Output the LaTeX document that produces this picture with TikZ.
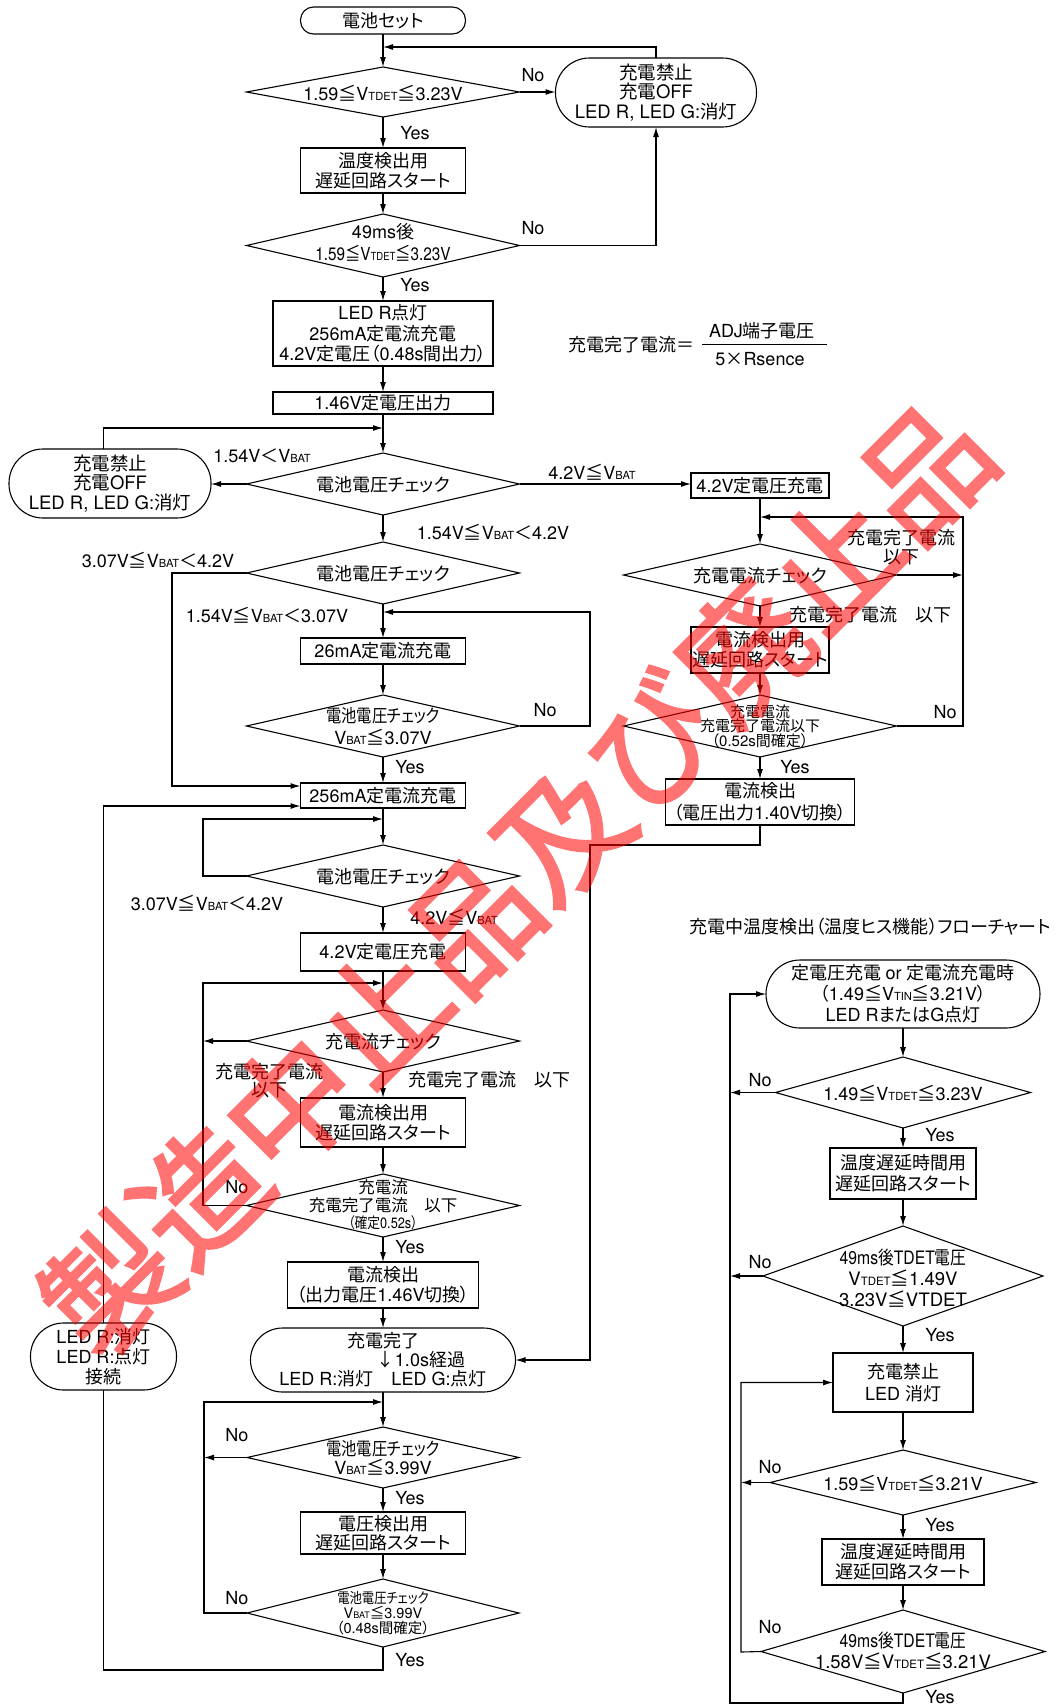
\documentclass[tikz,border=0pt]{standalone}
\usepackage{fontspec}
\usepackage{graphicx}
\setmainfont{TeX Gyre Heros}
\newfontfamily\latn[FakeStretch=0.85]{TeX Gyre Heros}
\newfontfamily\cjkf[RawFeature={+palt}]{Noto Sans CJK JP}
\newfontfamily\cjkn[FakeStretch=0.85,RawFeature={+palt}]{Noto Sans CJK JP}
\newfontfamily\cjkw[FakeBold=2]{Noto Sans CJK JP}
\usetikzlibrary{arrows.meta,shapes.geometric,calc}
\newcount\cjkcc
\newcommand\setcls[3]{\cjkcc=#1\relax\loop\XeTeXcharclass\cjkcc=#3\relax\advance\cjkcc by 1\relax\ifnum\cjkcc<#2\relax\repeat}
\setcls{"21}{"7F}{0}
\setcls{"3000}{"3100}{7}
\setcls{"4E00}{"A000}{7}
\setcls{"FF00}{"FFF0}{7}
\setcls{"2190}{"2194}{7}
\setcls{"2264}{"2268}{7}
\XeTeXcharclass"00D7=7
\def\docjk{\cjkf}\def\dolat{\rmfamily}
\XeTeXinterchartoks 0 7 = {\docjk}
\XeTeXinterchartoks 4095 7 = {\docjk}
\XeTeXinterchartoks 7 0 = {\dolat}
\XeTeXinterchartoks 4095 0 = {\dolat}
\newcommand\nrw{\def\docjk{\cjkn}\def\dolat{\latn}\latn}
\newcommand\lsub[1]{\scalebox{0.62}{#1}}
\newcommand\fsz[2]{\fontsize{#1pt}{#2pt}\selectfont}
\tikzset{
  every node/.style={inner sep=0pt,outer sep=0pt,font=\fsz{18}{21}},
  ln/.style={line width=1.1pt},
  arr/.style={line width=1.1pt,-{Latex[length=10pt,width=6pt]}},
  dia/.style={draw,line width=1.1pt,diamond},
  box/.style={draw,line width=1.1pt,rectangle,align=center},
  stad/.style={draw,line width=1.1pt,rectangle,align=center,rounded corners=#1},
  lbl/.style={align=center},
}
\begin{document}
\begin{tikzpicture}[x=1pt,y=-1pt]
\XeTeXinterchartokenstate=1
\fill[white] (0,0) rectangle (1057,1706);
\useasboundingbox (0,0) rectangle (1057,1706);

% ---------- main column ----------
\node[stad=13pt,minimum width=165pt,minimum height=27pt] (start) at (383,20.5) {電池セット};
\node[dia,minimum width=273pt,minimum height=50pt] (d1) at (383,92) {};
\node (d1t) at (383,93) {1.59≦V\lsub{TDET}≦3.23V};
\node[stad=34pt,minimum width=201pt,minimum height=69pt,font=\fsz{18.5}{19.5}] (st1) at (656,92.5) {充電禁止\\充電OFF\\LED R, LED G:消灯};
\node[box,minimum width=165pt,minimum height=45pt,font=\fsz{18}{19.5}] (b1) at (383,170.5) {温度検出用\\遅延回路スタート};
\node[dia,minimum width=273pt,minimum height=63pt] (d2) at (383,245.5) {};
\node[lbl,font=\fsz{18}{22}] (d2t) at (383,242) {49ms後\\{\nrw 1.59≦V\lsub{TDET}≦3.23V}};
\node[box,minimum width=220pt,minimum height=65pt,font=\fsz{18}{20.5}] (b2) at (383,333.5) {LED R点灯\\256mA定電流充電\\4.2V定電圧（0.48s間出力）};
\node[box,minimum width=220pt,minimum height=22pt] (b3) at (383,403) {1.46V定電圧出力};
\node[dia,minimum width=273pt,minimum height=62pt] (d3) at (383,484) {};
\node (d3t) at (383,485) {電池電圧チェック};
\node[stad=34pt,minimum width=202pt,minimum height=69pt,font=\fsz{18.5}{19.5}] (st2) at (110,483.5) {充電禁止\\充電OFF\\LED R, LED G:消灯};
\node[box,minimum width=138pt,minimum height=25pt] (bR1) at (760,485.5) {4.2V定電圧充電};
\node[dia,minimum width=273pt,minimum height=62pt] (d4) at (383,573) {};
\node (d4t) at (383,574) {電池電圧チェック};
\node[box,minimum width=165pt,minimum height=26pt] (b4) at (383,651) {26mA定電流充電};
\node[dia,minimum width=273pt,minimum height=62pt] (d5) at (383,726) {};
\node[lbl,font=\fsz{18}{22}] (d5t) at (383,726) {\nrw 電池電圧チェック\\V\lsub{BAT}≦3.07V};
\node[box,minimum width=165pt,minimum height=25pt] (b5) at (383,795.5) {256mA定電流充電};
\node[dia,minimum width=273pt,minimum height=62pt] (d6) at (383,876) {};
\node (d6t) at (383,877) {電池電圧チェック};
\node[box,minimum width=165pt,minimum height=38pt] (b6) at (383,952) {4.2V定電圧充電};
\node[dia,minimum width=273pt,minimum height=62pt] (d7) at (383,1041) {};
\node (d7t) at (383,1042) {充電流チェック};
\node[box,minimum width=165pt,minimum height=49pt,font=\fsz{18}{20}] (b7) at (383,1122.5) {電流検出用\\遅延回路スタート};
\node[dia,minimum width=273pt,minimum height=63pt] (d8) at (383,1205.5) {};
\node[lbl,font=\fsz{16.5}{17.5}] (d8t) at (383,1205) {充電流\\充電完了電流　以下\\{\nrw\fsz{15}{17.5}（確定0.52s）}};
\node[box,minimum width=191.5pt,minimum height=46pt,font=\fsz{18}{20}] (b8) at (383,1285) {電流検出\\（出力電圧1.46V切換）};
\node[stad=32pt,minimum width=265pt,minimum height=64pt,font=\fsz{18}{19}] (st3) at (383,1360) {充電完了\\\hspace*{76pt}↓1.0s経過\\LED R:消灯　LED G:点灯};
\node[stad=33pt,minimum width=146pt,minimum height=67pt,font=\fsz{18}{20}] (st4) at (103.5,1356.5) {LED R:消灯\\LED R:点灯\\接続};
\node[dia,minimum width=272pt,minimum height=61pt] (d9) at (383,1457.5) {};
\node[lbl,font=\fsz{18}{19}] (d9t) at (383,1457.5) {\nrw 電池電圧チェック\\V\lsub{BAT}≦3.99V};
\node[box,minimum width=165pt,minimum height=42pt,font=\fsz{18}{19.5}] (b9) at (383,1533) {電圧検出用\\遅延回路スタート};
\node[dia,minimum width=272pt,minimum height=68pt] (d10) at (383,1613) {};
\node[lbl,font=\fsz{14.5}{15}] (d10t) at (383,1613) {\nrw 電池電圧チェック\\V\lsub{BAT}≦3.99V\\（0.48s間確定）};

% ---------- right middle column ----------
\node[dia,minimum width=273pt,minimum height=62pt] (d11) at (760,575) {};
\node (d11t) at (760,576) {充電電流チェック};
\node[box,minimum width=138pt,minimum height=46pt,font=\fsz{18}{20}] (bR2) at (760,650) {電流検出用\\遅延回路スタート};
\node[dia,minimum width=273pt,minimum height=62pt] (d12) at (760,726) {};
\node[lbl,font=\fsz{15}{14.5}] (d12t) at (760,726) {充電電流\\充電完了電流以下\\（0.52s間確定）};
\node[box,minimum width=188.5pt,minimum height=46pt,font=\fsz{18}{22}] (bR3) at (760,802) {電流検出\\（電圧出力1.40V切換）};

% formula
\node (fl) at (631,345) {充電完了電流＝};
\node (fn) at (762,331) {ADJ端子電圧};
\node (fd) at (760,359) {5×Rsence};
\draw[line width=1pt] (702,344) -- (827,344);

% ---------- right column ----------
\node (title) at (870,927) {充電中温度検出（温度ヒス機能）フローチャート};
\node[stad=34pt,minimum width=274pt,minimum height=68pt,font=\fsz{18}{21}] (st5) at (903,994) {定電圧充電 or 定電流充電時\\（1.49≦V\lsub{TIN}≦3.21V）\\LED RまたはG点灯};
\node[dia,minimum width=255pt,minimum height=71pt] (dR1) at (903,1092.5) {};
\node (dR1t) at (903,1093) {1.49≦V\lsub{TDET}≦3.23V};
\node[box,minimum width=146pt,minimum height=51pt,font=\fsz{18}{21}] (bRR1) at (903,1173.5) {温度遅延時間用\\遅延回路スタート};
\node[dia,minimum width=280pt,minimum height=100pt] (dR2) at (903,1276) {};
\node[lbl,font=\fsz{18.5}{21}] (dR2t) at (903,1278) {\nrw 49ms後TDET電圧\\V\lsub{TDET}≦1.49V\\3.23V≦VTDET};
\node[box,minimum width=140pt,minimum height=59pt,font=\fsz{18}{22}] (bRR2) at (903,1382.5) {充電禁止\\LED 消灯};
\node[dia,minimum width=266pt,minimum height=65pt] (dR3) at (903,1482.5) {};
\node (dR3t) at (903,1483) {1.59≦V\lsub{TDET}≦3.21V};
\node[box,minimum width=162pt,minimum height=46pt,font=\fsz{18}{20}] (bRR3) at (903,1562) {温度遅延時間用\\遅延回路スタート};
\node[dia,minimum width=284pt,minimum height=83pt] (dR4) at (903,1651.5) {};
\node[lbl,font=\fsz{18.5}{21}] (dR4t) at (903,1650.5) {\nrw 49ms後TDET電圧\\1.58V≦V\lsub{TDET}≦3.21V};

% ---------- coordinates ----------
\coordinate (j1) at (383,47);
\coordinate (j2) at (383,428);
\coordinate (c1) at (172,786);
\coordinate (j3) at (383,612);
\coordinate (c2) at (590,612);
\coordinate (c3) at (103.5,806);
\coordinate (j4) at (383,819);
\coordinate (c4) at (203,819);
\coordinate (j5) at (383,983);
\coordinate (c5) at (203,983);
\coordinate (c6) at (203,1041);
\coordinate (c7) at (590,845);
\coordinate (j6) at (383,1402);
\coordinate (c8) at (204,1402);
\coordinate (c9) at (204,1457.5);
\coordinate (c10) at (103.5,1670);
\coordinate (j7) at (760,517);
\coordinate (c11) at (963,517);
\coordinate (c12) at (963,575);
\coordinate (c13) at (730,1703);
\coordinate (c14) at (741,1652);

% ---------- connectors main ----------
\draw[arr] (start.south) -- (d1.north);
\draw[arr] (st1.north) |- (j1);
\draw[arr] (d1.east) -- (d1.east -| st1.west);
\draw[arr] (d1.south) -- (b1.north);
\draw[arr] (b1.south) -- (d2.north);
\draw[arr] (d2.east) -| (st1.south);
\draw[arr] (d2.south) -- (b2.north);
\draw[arr] (b2.south) -- (b3.north);
\draw[arr] (b3.south) -- (d3.north);
\draw[arr] ([xshift=-6.5pt]st2.north) |- (j2);
\draw[arr] (d3.west) -- (d3.west -| st2.east);
\draw[arr] (d3.east) -- (d3.east -| bR1.west);
\draw[arr] (d3.south) -- (d4.north);
\draw[arr] (d4.west) -| (c1) -- (c1 -| b5.west);
\draw[arr] (d4.south) -- (b4.north);
\draw[arr] (b4.south) -- (d5.north);
\draw[arr] (d5.east) -| (c2) -- (j3);
\draw[arr] (d5.south) -- (b5.north);
\draw[arr] (st4.north) -- (c3) -- (c3 -| b5.west);
\draw[arr] (b5.south) -- (d6.north);
\draw[arr] (d6.west) -| (c4) -- (j4);
\draw[arr] (d6.south) -- (b6.north);
\draw[arr] (b6.south) -- (d7.north);
\draw[arr] (d8.west) -| (c5) -- (j5);
\draw[arr] (d7.west) -- (c6);
\draw[arr] (d7.south) -- (b7.north);
\draw[arr] (b7.south) -- (d8.north);
\draw[arr] (d8.south) -- (b8.north);
\draw[arr] (b8.south) -- (st3.north);
\draw[arr] (bR3.south) |- (c7) |- (st3.east);
\draw[arr] (st3.south) -- (d9.north);
\draw[arr] (d10.west) -| (c8) -- (j6);
\draw[arr] (d9.west) -- (c9);
\draw[arr] (d9.south) -- (b9.north);
\draw[arr] (b9.south) -- (d10.north);
\draw[ln] (d10.south) |- (c10) -- (st4.south);

% ---------- connectors right middle ----------
\draw[arr] (bR1.south) -- (d11.north);
\draw[arr] (d12.east) -| (c11) -- (j7);
\draw[arr] (d11.east) -- (c12);
\draw[arr] (d11.south) -- (bR2.north);
\draw[arr] (bR2.south) -- (d12.north);
\draw[arr] (d12.south) -- (bR3.north);

% ---------- connectors right column ----------
\draw[arr] (dR4.south) |- (c13) |- (st5.west);
\draw[arr] (st5.south) -- (dR1.north);
\draw[arr] (dR1.west) -- (dR1.west -| c13);
\draw[arr] (dR1.south) -- (bRR1.north);
\draw[arr] (bRR1.south) -- (dR2.north);
\draw[arr] (dR2.west) -- (dR2.west -| c13);
\draw[arr] (dR2.south) -- (bRR2.north);
\draw[arr] (bRR2.south) -- (dR3.north);
\draw[arr] (dR3.west) -- (dR3.west -| c14);
\draw[arr] (dR3.south) -- (bRR3.north);
\draw[arr] (bRR3.south) -- (dR4.north);
\draw[arr] (dR4.west) -- (c14) |- (bRR2.west);

% ---------- labels ----------
\node (l1) at (533,75) {No};
\node (l2) at (533,228) {No};
\node (l3) at (415,133) {Yes};
\node (l4) at (415,285) {Yes};
\node (l5) at (262,456) {1.54V＜V\lsub{BAT}};
\node (l6) at (592,472) {4.2V≦V\lsub{BAT}};
\node (l7) at (493,532) {1.54V≦V\lsub{BAT}＜4.2V};
\node (l8) at (158,560) {3.07V≦V\lsub{BAT}＜4.2V};
\node (l9) at (267,615) {1.54V≦V\lsub{BAT}＜3.07V};
\node (l10) at (545,710) {No};
\node (l11) at (410,767) {Yes};
\node (l12) at (207,903) {3.07V≦V\lsub{BAT}＜4.2V};
\node (l13) at (454,917) {4.2V≦V\lsub{BAT}};
\node[lbl,font=\fsz{18}{18}] (l14) at (269,1081) {充電完了電流\\以下};
\node (l15) at (489,1080) {充電完了電流　以下};
\node (l16) at (237,1187) {No};
\node (l17) at (410,1247) {Yes};
\node (l18) at (237,1435) {No};
\node (l19) at (410,1498) {Yes};
\node (l20) at (237,1598) {No};
\node (l21) at (410,1660) {Yes};
\node[lbl,font=\fsz{18}{19}] (l22) at (901,547) {充電完了電流\\以下};
\node (l23) at (870,615) {充電完了電流　以下};
\node (l24) at (945,712) {No};
\node (l25) at (795,767) {Yes};
\node (l26) at (760,1080) {No};
\node (l27) at (940,1135) {Yes};
\node (l28) at (760,1262) {No};
\node (l29) at (940,1335) {Yes};
\node (l30) at (770,1467) {No};
\node (l31) at (940,1525) {Yes};
\node (l32) at (770,1627) {No};
\node (l33) at (940,1697) {Yes};

% ---------- watermark ----------
\begin{scope}[transparency group,opacity=0.55]
\node[text=red,rotate=45,font=\fsz{128}{128}] (wm) at (517,878) {\def\docjk{\cjkw}\cjkw 製造中止品及び廃止品};
\end{scope}
\end{tikzpicture}
\end{document}
